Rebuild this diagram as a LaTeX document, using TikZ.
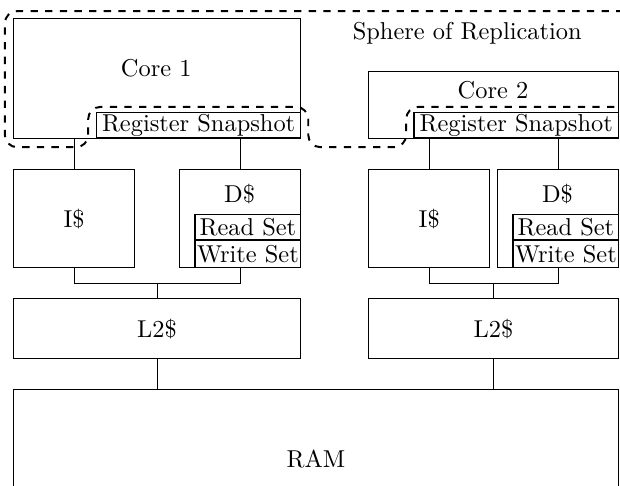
\documentclass[tikz,border=0pt]{standalone}
\tikzset{
  box/.style={draw,thin,rectangle,anchor=south west,inner sep=0pt},
  tagbox/.style={draw,semithick,rectangle,anchor=south west,inner sep=0pt},
  sphere/.style={dashed,thick,rounded corners=5pt}
}
\begin{document}
\begin{tikzpicture}
\useasboundingbox (0,0) rectangle (8.93,6.99);
% cores
\node[box,minimum width=4.13cm,minimum height=1.72cm] (core1) at (0.19,4.99) {};
\node (core1label) at (2.25,6.01) {Core 1};
\node[tagbox,minimum width=2.94cm,minimum height=0.37cm] (reg1) at (1.38,4.99) {Register Snapshot};
\node[box,minimum width=3.60cm,minimum height=0.96cm] (core2) at (5.30,4.99) {};
\node (core2label) at (7.10,5.69) {Core 2};
\node[tagbox,minimum width=2.95cm,minimum height=0.37cm] (reg2) at (5.95,4.99) {Register Snapshot};
% L1 caches
\node[box,minimum width=1.74cm,minimum height=1.41cm] (ic1) at (0.19,3.13) {I\$};
\node[box,minimum width=1.74cm,minimum height=1.41cm] (dc1) at (2.58,3.13) {};
\node (dc1label) at (3.45,4.19) {D\$};
\node[tagbox,minimum width=1.52cm,minimum height=0.37cm] (rs1) at (2.80,3.52) {Read Set};
\node[tagbox,minimum width=1.52cm,minimum height=0.39cm] (ws1) at (2.80,3.13) {Write Set};
\node[box,minimum width=1.75cm,minimum height=1.41cm] (ic2) at (5.30,3.13) {I\$};
\node[box,minimum width=1.74cm,minimum height=1.41cm] (dc2) at (7.16,3.13) {};
\node (dc2label) at (8.03,4.19) {D\$};
\node[tagbox,minimum width=1.52cm,minimum height=0.37cm] (rs2) at (7.38,3.52) {Read Set};
\node[tagbox,minimum width=1.52cm,minimum height=0.39cm] (ws2) at (7.38,3.13) {Write Set};
% L2 and memory
\node[box,minimum width=4.13cm,minimum height=0.86cm] (l2a) at (0.19,1.82) {L2\$};
\node[box,minimum width=3.60cm,minimum height=0.86cm] (l2b) at (5.30,1.82) {L2\$};
\node[box,minimum width=8.71cm,minimum height=2.01cm] (ram) at (0.19,-0.63) {RAM};
\draw[thin] (ic1.north) -- (ic1.north |- core1.south);
\draw[thin] (dc1.north) -- (dc1.north |- reg1.south);
\draw[thin] (ic2.north) -- (ic2.north |- core2.south);
\draw[thin] (dc2.north) -- (dc2.north |- reg2.south);
\draw[thin] (ic1.south) -- (ic1.south |- 0,2.91) -| (dc1.south);
\draw[thin] (l2a.north) -- (l2a.north |- 0,2.91);
\draw[thin] (ic2.south) -- (ic2.south |- 0,2.91) -| (dc2.south);
\draw[thin] (l2b.north) -- (l2b.north |- 0,2.91);
\draw[thin] (l2a.south) -- (l2a.south |- ram.north);
\draw[thin] (l2b.south) -- (l2b.south |- ram.north);
% sphere of replication
\draw[sphere] (8.98,6.83) -- (0.07,6.83) -- (0.07,4.87) -- (1.27,4.87) -- (1.27,5.45)
  -- (4.44,5.45) -- (4.44,4.87) -- (5.85,4.87) -- (5.85,5.45) -- (8.98,5.45);
\node (spherelabel) at (6.73,6.51) {Sphere of Replication};
\end{tikzpicture}
\end{document}
